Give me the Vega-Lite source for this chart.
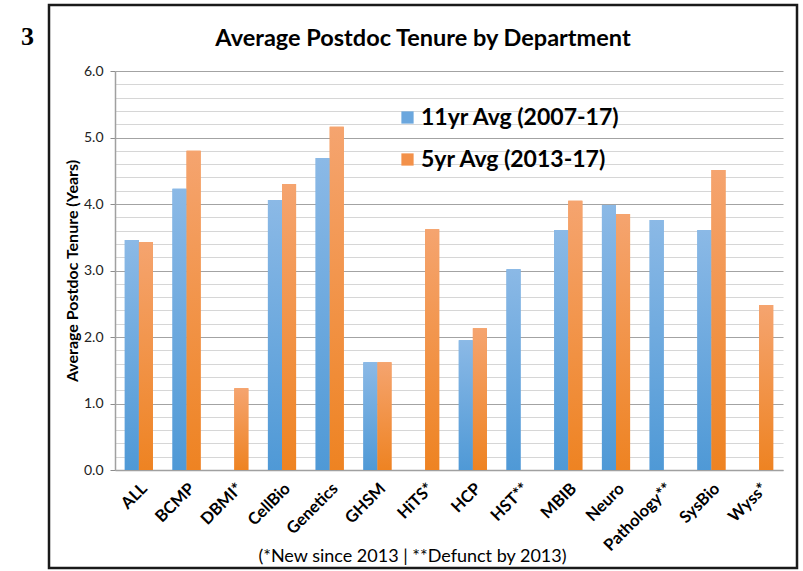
{
  "$schema": "https://vega.github.io/schema/vega-lite/v6.json",
  "width": 748,
  "height": 563,
  "autosize": "none",
  "padding": {"left": 49, "top": 5, "right": 6, "bottom": 3},
  "background": "white",
  "config": {
    "font": "Lato",
    "view": {"stroke": "#1a1a1a", "strokeWidth": 2.5, "fill": "white"},
    "axis": {"labelFont": "Lato", "titleFont": "Lato", "labelColor": "#222", "titleColor": "#000"}
  },
  "title": {
    "text": "Average Postdoc Tenure by Department",
    "font": "Lato",
    "fontSize": 23.5,
    "fontWeight": "bold",
    "color": "#000",
    "anchor": "middle",
    "frame": "group",
    "baseline": "alphabetic",
    "offset": -64
  },
  "data": {
    "values": [
      {"dept": "ALL", "series": "11yr Avg (2007-17)", "value": 3.46},
      {"dept": "ALL", "series": "5yr Avg (2013-17)", "value": 3.43},
      {"dept": "BCMP", "series": "11yr Avg (2007-17)", "value": 4.23},
      {"dept": "BCMP", "series": "5yr Avg (2013-17)", "value": 4.8},
      {"dept": "DBMI*", "series": "5yr Avg (2013-17)", "value": 1.23},
      {"dept": "CellBio", "series": "11yr Avg (2007-17)", "value": 4.06},
      {"dept": "CellBio", "series": "5yr Avg (2013-17)", "value": 4.3},
      {"dept": "Genetics", "series": "11yr Avg (2007-17)", "value": 4.69},
      {"dept": "Genetics", "series": "5yr Avg (2013-17)", "value": 5.16},
      {"dept": "GHSM", "series": "11yr Avg (2007-17)", "value": 1.62},
      {"dept": "GHSM", "series": "5yr Avg (2013-17)", "value": 1.62},
      {"dept": "HiTS*", "series": "5yr Avg (2013-17)", "value": 3.62},
      {"dept": "HCP", "series": "11yr Avg (2007-17)", "value": 1.95},
      {"dept": "HCP", "series": "5yr Avg (2013-17)", "value": 2.13},
      {"dept": "HST**", "series": "11yr Avg (2007-17)", "value": 3.02},
      {"dept": "MBIB", "series": "11yr Avg (2007-17)", "value": 3.61},
      {"dept": "MBIB", "series": "5yr Avg (2013-17)", "value": 4.05},
      {"dept": "Neuro", "series": "11yr Avg (2007-17)", "value": 3.98},
      {"dept": "Neuro", "series": "5yr Avg (2013-17)", "value": 3.85},
      {"dept": "Pathology**", "series": "11yr Avg (2007-17)", "value": 3.76},
      {"dept": "SysBio", "series": "11yr Avg (2007-17)", "value": 3.61},
      {"dept": "SysBio", "series": "5yr Avg (2013-17)", "value": 4.51},
      {"dept": "Wyss*", "series": "5yr Avg (2013-17)", "value": 2.48}
    ]
  },
  "encoding": {
    "x": {
      "field": "dept",
      "type": "nominal",
      "sort": ["ALL", "BCMP", "DBMI*", "CellBio", "Genetics", "GHSM", "HiTS*", "HCP", "HST**", "MBIB", "Neuro", "Pathology**", "SysBio", "Wyss*"],
      "scale": {"range": [66, 734], "paddingInner": 0.41, "paddingOuter": 0.205},
      "axis": {
        "offset": -98,
        "labelAngle": -45,
        "labelFontSize": 16.5,
        "labelFontWeight": "bold",
        "labelColor": "#000",
        "labelPadding": 10,
        "ticks": false,
        "domainColor": "#a0a0a0",
        "domainWidth": 1.5,
        "title": "(*New since 2013 | **Defunct by 2013)",
        "titleFontSize": 18,
        "titleFontWeight": "normal",
        "titleX": 363,
        "titleY": 91,
        "titleAlign": "center",
        "titleBaseline": "alphabetic"
      }
    },
    "xOffset": {
      "field": "series",
      "sort": ["11yr Avg (2007-17)", "5yr Avg (2013-17)"],
      "scale": {"paddingInner": 0, "paddingOuter": 0}
    },
    "y": {
      "field": "value",
      "type": "quantitative",
      "scale": {"domain": [0, 6], "range": [465, 66], "nice": false, "zero": true}
    }
  },
  "layer": [
    {
      "mark": {"type": "bar"},
      "encoding": {
        "color": {
          "field": "series",
          "type": "nominal",
          "scale": {"domain": ["11yr Avg (2007-17)", "5yr Avg (2013-17)"], "range": ["#6ba7de", "#f3914a"]},
          "legend": {
            "orient": "none",
            "legendX": 347,
            "legendY": 101,
            "title": null,
            "padding": 0,
            "labelFont": "Lato",
            "labelFontSize": 23,
            "labelFontWeight": "bold",
            "labelColor": "#000",
            "labelLimit": 400,
            "labelOffset": 2,
            "rowPadding": 18,
            "symbolType": "square",
            "symbolSize": 150,
            "symbolStrokeWidth": 0
          }
        },
        "y": {
          "field": "value",
          "type": "quantitative",
          "axis": {
            "offset": -66,
            "values": [0, 0.2, 0.4, 0.6, 0.8, 1, 1.2, 1.4, 1.6, 1.8, 2, 2.2, 2.4, 2.6, 2.8, 3, 3.2, 3.4, 3.6, 3.8, 4, 4.2, 4.4, 4.6, 4.8, 5, 5.2, 5.4, 5.6, 5.8, 6],
            "labelExpr": "datum.value % 1 === 0 ? format(datum.value, '.1f') : ''",
            "labelOverlap": false,
            "labelFontSize": 14,
            "labelPadding": 7,
            "tickSize": 5,
            "tickColor": "#8c8c8c",
            "tickOpacity": {"condition": {"test": "datum.value % 1 === 0", "value": 1}, "value": 0},
            "domainColor": "#a0a0a0",
            "domainWidth": 1.5,
            "grid": true,
            "gridColor": {"condition": {"test": "datum.value % 1 === 0", "value": "#a3a3a3"}, "value": "#d6d6d6"},
            "gridWidth": 1.2,
            "title": "Average Postdoc Tenure (Years)",
            "titleFontSize": 16,
            "titleFontWeight": "bold",
            "titlePadding": 3
          }
        }
      }
    },
    {
      "mark": {"type": "bar"},
      "encoding": {
        "fill": {
          "condition": {
            "test": "datum.series === '11yr Avg (2007-17)'",
            "value": {"gradient": "linear", "x1": 0, "y1": 0, "x2": 0, "y2": 1, "stops": [{"offset": 0, "color": "#8bb9e6"}, {"offset": 1, "color": "#4f99d6"}]}
          },
          "value": {"gradient": "linear", "x1": 0, "y1": 0, "x2": 0, "y2": 1, "stops": [{"offset": 0, "color": "#f5a46f"}, {"offset": 1, "color": "#ee8322"}]}
        },
        "y": {
          "field": "value",
          "type": "quantitative",
          "axis": {
            "orient": "left",
            "offset": 0,
            "labels": false,
            "ticks": false,
            "domain": false,
            "grid": false,
            "title": "3",
            "titleAngle": 0,
            "titleFont": "Liberation Serif",
            "titleFontSize": 26,
            "titleFontWeight": "bold",
            "titleColor": "#000",
            "titleX": -22,
            "titleY": 39,
            "titleAlign": "center",
            "titleBaseline": "alphabetic"
          }
        }
      }
    }
  ],
  "resolve": {"axis": {"y": "independent"}}
}
